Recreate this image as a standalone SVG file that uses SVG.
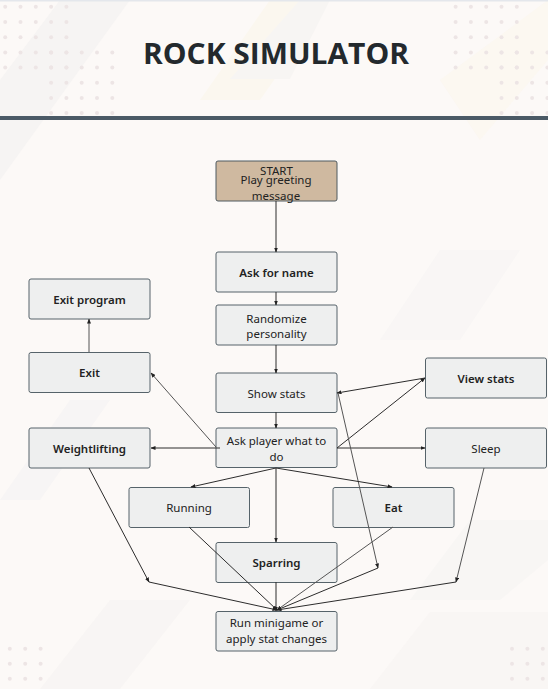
<svg xmlns="http://www.w3.org/2000/svg" width="548" height="689" viewBox="0 0 548 689">
<style>
.box{fill:#eeefef;stroke:#56636a;stroke-width:1}
.start{fill:#cfb9a0;stroke:#4f5a60;stroke-width:1}
.t{font-family:"Noto Sans","Open Sans","Liberation Sans",sans-serif;font-size:11.5px;fill:#222;text-anchor:middle}
.b{font-weight:600}
.con{fill:none;stroke:#2c2c2c;stroke-width:1;marker-end:url(#ah)}
.gray{stroke:#555}
.dot{fill:#ede5e5}
</style>
<defs>
<marker id="ah" markerUnits="userSpaceOnUse" markerWidth="5" markerHeight="4" refX="4.5" refY="2" orient="auto">
<path d="M0,0 L5,2 L0,4 z" fill="#222"/>
</marker>
<g id="dots5">
<circle cx="0" cy="0" r="2"/><circle cx="15.3" cy="0" r="2"/><circle cx="30.6" cy="0" r="2"/><circle cx="45.9" cy="0" r="2"/><circle cx="61.2" cy="0" r="2"/>
</g>
<g id="dots3">
<circle cx="0" cy="0" r="2"/><circle cx="15.4" cy="0" r="2"/><circle cx="30.8" cy="0" r="2"/>
</g>
</defs>
<rect width="548" height="689" fill="#fcf9f7"/>
<g id="background">
<polygon points="0,80 60,0 130,0 0,180" fill="#f6f4f3"/>
<polygon points="200,100 270,0 330,0 260,100" fill="#fbf7ef"/>
<polygon points="230,79 300,0 330,0 290,79" fill="#f7f5f3"/>
<polygon points="440,80 548,0 548,60 480,140" fill="#fbf6ec" opacity="0.6"/>
<polygon points="0,500 70,400 110,400 40,500" fill="#f5f4f3" opacity="0.7"/>
<polygon points="380,340 440,250 520,250 460,340" fill="#f5f4f3" opacity="0.5"/>
<polygon points="410,600 470,520 548,520 548,560 500,600" fill="#f5f3f1" opacity="0.6"/>
<polygon points="40,689 110,600 190,600 120,689" fill="#f6f4f2" opacity="0.7"/>
<polygon points="370,689 430,612 548,612 548,689" fill="#f6f4f2" opacity="0.6"/>
</g>
<rect x="0" y="0" width="548" height="1.5" fill="#e4e7ec"/>
<g id="dots-top-left" class="dot">
<use href="#dots5" x="5.2" y="6.7"/><use href="#dots5" x="5.2" y="22"/><use href="#dots5" x="5.2" y="37.3"/>
<use href="#dots5" x="5.2" y="52.4"/><use href="#dots5" x="51.1" y="52.4"/>
<use href="#dots5" x="5.2" y="67.6"/><use href="#dots5" x="51.1" y="67.6"/>
<use href="#dots5" x="51.1" y="82.8"/><use href="#dots5" x="51.1" y="98"/><use href="#dots5" x="51.1" y="113"/>
</g>
<g id="dots-top-right" class="dot">
<use href="#dots5" x="455.6" y="6.7"/><use href="#dots5" x="455.6" y="22"/><use href="#dots5" x="455.6" y="37.3"/>
<use href="#dots5" x="455.6" y="52.4"/><use href="#dots5" x="501.5" y="52.4"/>
<use href="#dots5" x="455.6" y="67.6"/><use href="#dots5" x="501.5" y="67.6"/>
<use href="#dots5" x="501.5" y="82.8"/><use href="#dots5" x="501.5" y="98"/><use href="#dots5" x="501.5" y="113"/>
</g>
<g id="dots-bottom" class="dot">
<use href="#dots3" x="9.8" y="648.7"/><use href="#dots3" x="9.8" y="663.7"/><use href="#dots3" x="9.8" y="678.7"/>
<use href="#dots3" x="512" y="648.7"/><use href="#dots3" x="512" y="663.7"/><use href="#dots3" x="512" y="678.7"/>
</g>
<text x="276" y="64" textLength="266" lengthAdjust="spacingAndGlyphs" font-family="'Open Sans','Noto Sans','Liberation Sans',sans-serif" font-size="28" font-weight="700" fill="#23292d" text-anchor="middle">ROCK SIMULATOR</text>
<rect x="0" y="116" width="548" height="4" fill="#4b5a66"/>

<g id="node-start">
<rect class="start" x="216" y="161" width="121" height="40" rx="2"/>
<text class="t" x="276.5" y="175" font-size="9">START</text>
<text class="t" x="276" y="184">Play greeting</text>
<text class="t" x="276" y="199.5">message</text>
</g>
<g id="node-ask-name">
<rect class="box" x="216" y="252" width="121" height="40" rx="2"/>
<text class="t b" x="276.5" y="276.5">Ask for name</text>
</g>
<g id="node-randomize">
<rect class="box" x="216" y="305" width="121" height="40" rx="2"/>
<text class="t" x="276.5" y="322.5">Randomize</text>
<text class="t" x="276.5" y="338">personality</text>
</g>
<g id="node-show-stats">
<rect class="box" x="216" y="373" width="121" height="39.5" rx="2"/>
<text class="t" x="276.5" y="397.5">Show stats</text>
</g>
<g id="node-ask-player">
<rect class="box" x="216" y="428" width="121" height="39.5" rx="2"/>
<text class="t" x="276.5" y="445">Ask player what to</text>
<text class="t" x="276.5" y="460.5">do</text>
</g>
<g id="node-exit-program">
<rect class="box" x="29" y="279" width="121" height="40" rx="2"/>
<text class="t b" x="89.5" y="303.5">Exit program</text>
</g>
<g id="node-exit">
<rect class="box" x="29" y="352.5" width="121" height="40" rx="2"/>
<text class="t b" x="89.5" y="376.5">Exit</text>
</g>
<g id="node-weightlifting">
<rect class="box" x="29" y="428" width="121" height="40" rx="2"/>
<text class="t b" x="89.5" y="453">Weightlifting</text>
</g>
<g id="node-view-stats">
<rect class="box" x="425.5" y="358" width="121" height="40" rx="2"/>
<text class="t b" x="486" y="382.5">View stats</text>
</g>
<g id="node-sleep">
<rect class="box" x="425.5" y="428" width="121" height="40" rx="2"/>
<text class="t" x="486" y="452.5">Sleep</text>
</g>
<g id="node-running">
<rect class="box" x="129" y="487.5" width="120.5" height="40" rx="2"/>
<text class="t" x="189" y="512">Running</text>
</g>
<g id="node-eat">
<rect class="box" x="333" y="487.5" width="121" height="40" rx="2"/>
<text class="t b" x="393.5" y="512">Eat</text>
</g>
<g id="node-sparring">
<rect class="box" x="216" y="542.5" width="121" height="40" rx="2"/>
<text class="t b" x="276.5" y="567">Sparring</text>
</g>
<g id="node-run-minigame">
<rect class="box" x="216" y="611.5" width="121" height="39.5" rx="2"/>
<text class="t" x="276.5" y="627">Run minigame or</text>
<text class="t" x="276.5" y="642.5">apply stat changes</text>
</g>

<g id="connectors">
<path class="con" d="M276,201 V252"/>
<path class="con" d="M276,292 V305"/>
<path class="con" d="M276,345 V373"/>
<path class="con" d="M276,412 V428"/>
<path class="con" d="M220,448 H151"/>
<path class="con gray" d="M216,447 L151,373"/>
<path class="con gray" d="M89,352 V319"/>
<path class="con" d="M337,448 H425"/>
<path class="con" d="M337,448 L425,378"/>
<path class="con" d="M425,378 L337,393"/>
<path class="con gray" d="M338,393 L378,568"/>
<path class="con" d="M378,568 L277,610"/>
<path class="con" d="M276,468 L191,487"/>
<path class="con" d="M276,468 L392,487"/>
<path class="con" d="M276,468 V542"/>
<path class="con" d="M189,527 L277,610"/>
<path class="con gray" d="M393,527 L277,610"/>
<path class="con" d="M276,582 V611"/>
<path class="con" d="M89,468 L149,582"/>
<path class="con" d="M149,582 L277,610"/>
<path class="con gray" d="M484,468 L456,582"/>
<path class="con" d="M456,582 L277,610"/>
</g>
</svg>
